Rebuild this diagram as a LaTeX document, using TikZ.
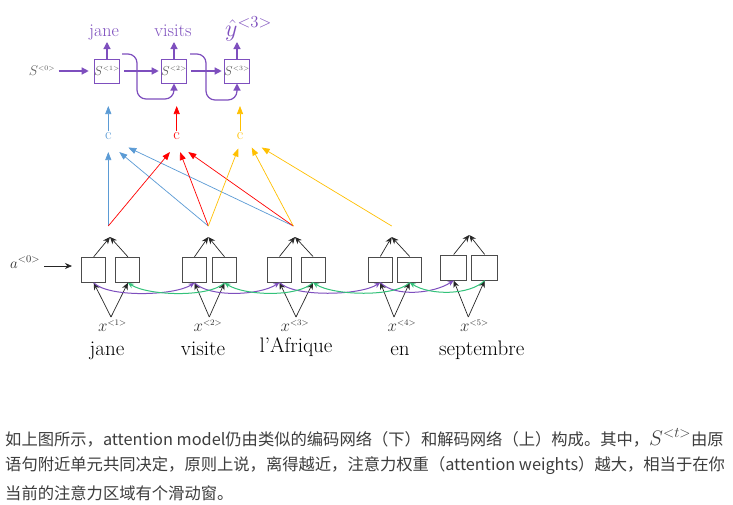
\documentclass[tikz,border=0pt]{standalone}
\usepackage{fix-cm}
\usepackage{fontspec}
\newfontfamily\cjk{Noto Sans CJK SC}
\usetikzlibrary{arrows.meta}
\definecolor{pur}{HTML}{7E4FBE}
\definecolor{grn}{HTML}{33C27A}
\definecolor{cblue}{HTML}{5B9BD5}
\definecolor{cred}{HTML}{FF0000}
\definecolor{cyel}{HTML}{FFC000}
\definecolor{txt}{HTML}{3D3D3D}
\begin{document}
\begin{tikzpicture}[x=1pt,y=-1pt,
  ebox/.style={draw=black!70, line width=1pt, minimum width=24pt, minimum height=25pt, inner sep=0pt},
  dbox/.style={draw=pur, line width=1pt, minimum width=24pt, minimum height=24pt, inner sep=0pt,
    font=\fontsize{13}{13}\selectfont, text=black!65},
  blk/.style={draw=black!85, line width=0.7pt, -{Stealth[length=7pt,width=6pt]}},
  parr/.style={draw=pur, line width=1.2pt, -{Triangle[length=7pt,width=7pt]}},
  fwd/.style={draw=pur, line width=1pt, -{Stealth[length=6pt,width=5pt]}},
  bwd/.style={draw=grn, line width=1pt, -{Stealth[length=6pt,width=5pt]}},
  att/.style={line width=0.7pt, -{Triangle[length=8pt,width=6pt]}},
  clab/.style={font=\fontsize{16}{16}\selectfont, inner sep=1pt},
  word/.style={font=\fontsize{21}{21}\selectfont, anchor=base},
  xlab/.style={font=\fontsize{17}{17}\selectfont, text=black!80},
  olab/.style={font=\fontsize{18}{18}\selectfont, text=pur, anchor=base},
  cjkline/.style={font=\cjk\fontsize{16.3}{16.3}\selectfont, text=txt, anchor=west, inner sep=0pt}
]
\fill[white] (0,0) rectangle (733,504);
\useasboundingbox (0,0) rectangle (733,504);

% ---------------- decoder ----------------
\node[dbox] (d1) at (107,71) {$S^{\scriptscriptstyle<1>}$};
\node[dbox] (d2) at (174,71) {$S^{\scriptscriptstyle<2>}$};
\node[dbox] (d3) at (237,71) {$S^{\scriptscriptstyle<3>}$};
\node[font=\fontsize{14}{14}\selectfont, text=black!65] (s0) at (42,71) {$S^{\scriptscriptstyle<0>}$};

\draw[parr, shorten >=5pt] (s0) -- (d1);
\draw[parr, shorten <=4pt, shorten >=2pt] (d1) -- (d2);
\draw[parr, shorten <=4pt, shorten >=2pt] (d2) -- (d3);

\node[olab] (o1) at (104,36) {jane};
\node[olab] (o2) at (173,36) {visits};
\node[font=\fontsize{24}{24}\selectfont, text=pur, anchor=base west, inner sep=0pt] (o3) at (225,36) {$\hat{y}^{<3>}$};

\coordinate (t1) at (107,42);
\coordinate (t2) at (174,42);
\coordinate (t3) at (237,42);
\draw[parr] (d1.north) -- (t1);
\draw[parr] (d2.north) -- (t2);
\draw[parr] (d3.north) -- (t3);

\coordinate (k1) at (122,54);
\coordinate (k2) at (190,54);
\draw[parr, rounded corners=9pt] (k1) -- (137,54) -- (137,99) -- (174,99) -- (d2.south);
\draw[parr, rounded corners=9pt] (k2) -- (206,54) -- (206,100) -- (237,100) -- (d3.south);

% ---------------- context vectors ----------------
\node[clab, text=cblue] (c1) at (108.3,136) {c};
\node[clab, text=cred]  (c2) at (176.7,136) {c};
\node[clab, text=cyel]  (c3) at (240,136) {c};
\coordinate (ct1) at (108.3,106);
\coordinate (ct2) at (176.7,106);
\coordinate (ct3) at (240,106);
\draw[att, cblue] (c1.north) -- (ct1);
\draw[att, cred]  (c2.north) -- (ct2);
\draw[att, cyel]  (c3.north) -- (ct3);

% attention sources
\coordinate (h1) at (108.3,226);
\coordinate (h2) at (208.3,226);
\coordinate (h3) at (293.3,226);
\coordinate (h4) at (391.7,226);
% targets
\coordinate (bt1) at (108.3,152);
\coordinate (bt2) at (119.3,152);
\coordinate (bt3) at (128.3,147.5);
\coordinate (rt1) at (170,152);
\coordinate (rt2) at (180,152);
\coordinate (rt3) at (188.3,152);
\coordinate (yt1) at (238.3,148.5);
\coordinate (yt2) at (251.7,147.5);
\coordinate (yt3) at (261.7,147.5);

\draw[att, cblue] (h1) -- (bt1);
\draw[att, cblue] (h2) -- (bt2);
\draw[att, cblue] (h3) -- (bt3);
\draw[att, cred]  (h1) -- (rt1);
\draw[att, cred]  (h2) -- (rt2);
\draw[att, cred]  (h3) -- (rt3);
\draw[att, cyel]  (h2) -- (yt1);
\draw[att, cyel]  (h3) -- (yt2);
\draw[att, cyel]  (h4) -- (yt3);

% ---------------- encoder ----------------
\node[ebox] (e1) at (93.7,269.8) {};
\node[ebox] (e2) at (127.9,269.8) {};
\node[ebox] (e3) at (194.5,269.8) {};
\node[ebox] (e4) at (224.5,269.8) {};
\node[ebox] (e5) at (279.5,269.5) {};
\node[ebox] (e6) at (313,269.5) {};
\node[ebox] (e7) at (380.3,269.5) {};
\node[ebox] (e8) at (409.7,269.5) {};
\node[ebox, minimum width=26pt] (e9) at (453.7,267.5) {};
\node[ebox, minimum width=26pt] (e10) at (484.7,267.5) {};

\coordinate (a1) at (110,237);
\coordinate (a2) at (208.3,237);
\coordinate (a3) at (295,237);
\coordinate (a4) at (391.7,237);
\coordinate (a5) at (469.3,235);
\foreach \l/\r/\a in {e1/e2/a1, e3/e4/a2, e5/e6/a3, e7/e8/a4, e9/e10/a5}{
  \draw[blk] (\l.north) -- (\a);
  \draw[blk] (\r.north) -- (\a);
}

\coordinate (i1) at (111,317);
\coordinate (i2) at (209.3,317);
\coordinate (i3) at (296,317);
\coordinate (i4) at (394,317);
\coordinate (i5) at (468.3,317);
\foreach \l/\r/\a in {e1/e2/i1, e3/e4/i2, e5/e6/i3, e7/e8/i4, e9/e10/i5}{
  \draw[blk] (\a) -- (\l.south);
  \draw[blk] (\a) -- (\r.south);
}

% forward (purple) and backward (green) connections
\foreach \s/\t in {e1/e3, e3/e5, e5/e7, e7/e9}{
  \draw[fwd] (\s.south) .. controls +(15,15) and +(-20,13) .. (\t.south);
}
\foreach \s/\t in {e4/e2, e6/e4, e8/e6, e10/e8}{
  \draw[bwd] (\s.south) .. controls +(-15,15) and +(20,13) .. (\t.south);
}

% initial activation
\node[font=\fontsize{15}{15}\selectfont, text=black!80, anchor=base west, inner sep=0pt] (a0) at (10,268) {$a^{<0>}$};
\coordinate (a0e) at (72,266);
\draw[blk] (a0.east |- a0e) ++(4,0) coordinate (a0s) -- (a0e);

% inputs
\node[xlab] (x1) at (112.5,326) {$x^{\scriptscriptstyle<1>}$};
\node[xlab] (x2) at (208,326) {$x^{\scriptscriptstyle<2>}$};
\node[xlab] (x3) at (295,326) {$x^{\scriptscriptstyle<3>}$};
\node[xlab] (x4) at (402,326) {$x^{\scriptscriptstyle<4>}$};
\node[xlab] (x5) at (474.5,326) {$x^{\scriptscriptstyle<5>}$};

\node[word] (w1) at (107,355) {jane};
\node[word] (w2) at (203,355) {visite};
\node[word] (w3) at (296,352) {l'Afrique};
\node[word] (w4) at (400,355) {en};
\node[word] (w5) at (481.7,355) {septembre};

% ---------------- caption ----------------
\node[cjkline] (l1) at (5,438) {如上图所示，attention model仍由类似的编码网络（下）和解码网络（上）构成。其中，{\fontsize{21}{21}\selectfont$S^{<t>}$}由原};
\node[cjkline] (l2) at (5,466) {语句附近单元共同决定，原则上说，离得越近，注意力权重（attention weights）越大，相当于在你};
\node[cjkline] (l3) at (5,493) {当前的注意力区域有个滑动窗。};
\end{tikzpicture}
\end{document}
